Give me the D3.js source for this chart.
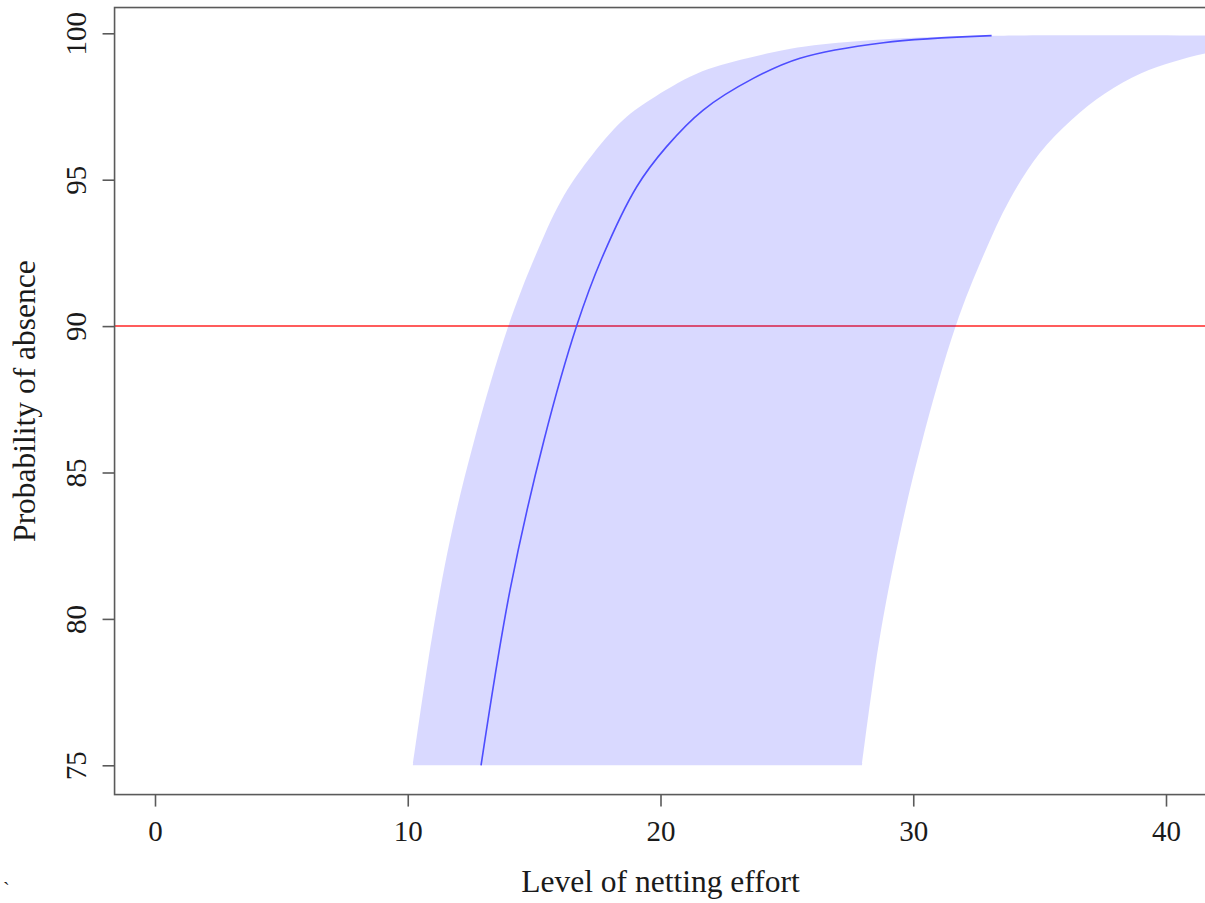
<!DOCTYPE html>
<html>
<head>
<meta charset="utf-8">
<script src="https://cdn.jsdelivr.net/npm/d3@7"></script>
<style>
  html, body { margin: 0; padding: 0; background: #fff; }
  svg { display: block; }
  text { font-family: "Liberation Serif", "Times New Roman", serif; fill: #1a1a1a; }
</style>
</head>
<body>
<svg id="chart" width="1205" height="903"></svg>
<script>
// ---- data ----
const meanX = [12.9, 14.05, 15.39, 16.68, 17.67, 19.06, 20.24, 21.69, 23.67, 25.52, 28.82, 33.1];
const meanY = [75, 81, 86.1, 90, 92.3, 94.76, 96.13, 97.38, 98.46, 99.15, 99.68, 99.92];

const lowerX = [10.2, 10.94, 11.67, 12.6, 13.98, 15.05, 16.08, 17.14, 18.52, 19.8, 21.65, 23.68, 25.65, 29.55, 33.43, 43.3];
const lowerY = [75, 79.28, 82.69, 86.0, 90, 92.4, 94.31, 95.67, 97.04, 97.84, 98.7, 99.2, 99.54, 99.83, 99.92, 99.92];

const upperX = [27.97, 28.66, 29.42, 30.33, 31.68, 32.77, 33.81, 35.0, 36.26, 37.6, 39.0, 40.3, 41.65, 43.3];
const upperY = [75, 79.28, 82.69, 86.0, 90, 92.4, 94.31, 95.9, 97.04, 97.95, 98.63, 99.03, 99.33, 99.56];

const threshold = [90];
const xTicks = [0, 10, 20, 30, 40];
const yTicks = [75, 80, 85, 90, 95, 100];
const xLim = [-1.6, 41.6];
const yLim = [74, 100.88];
const xTitle = "Level of netting effort";
const yTitle = "Probability of absence";

// ---- scales ----
const svg = d3.select("#chart");
const x = d3.scaleLinear().domain([0, 40]).range([155, 1166]);
const y = d3.scaleLinear().domain([75, 100]).range([765.3, 33.3]);

const pLeft = x(xLim[0]), pRight = x(xLim[1]);
const pTop = y(yLim[1]), pBottom = y(yLim[0]);

svg.append("defs").append("clipPath").attr("id", "plotclip")
  .append("rect").attr("x", pLeft).attr("y", pTop)
  .attr("width", pRight - pLeft).attr("height", pBottom - pTop);

const plot = svg.append("g").attr("clip-path", "url(#plotclip)");

// threshold line (drawn first, band over it)
plot.selectAll("line.thr").data(threshold).enter().append("line")
  .attr("class", "thr")
  .attr("x1", pLeft).attr("x2", pRight)
  .attr("y1", d => y(d)).attr("y2", d => y(d))
  .attr("stroke", "#ff5c5c").attr("stroke-width", 2);

// band
const lowerPts = lowerX.map((v, i) => [v, lowerY[i]]);
const upperPts = upperX.map((v, i) => [v, upperY[i]]).reverse();
const edge = d3.line().x(d => x(d[0])).y(d => y(d[1])).curve(d3.curveCatmullRom.alpha(0.5));
const bandPath = edge(lowerPts) + edge(upperPts).replace(/^M/, "L") + "Z";
plot.append("path").attr("d", bandPath)
  .attr("fill", "rgb(0,0,255)").attr("fill-opacity", 0.15).attr("stroke", "none");

// mean line
const meanPts = meanX.map((v, i) => [v, meanY[i]]);
plot.append("path").attr("d", edge(meanPts))
  .attr("fill", "none").attr("stroke", "#4d4dff").attr("stroke-width", 1.6);

// frame
svg.append("rect").attr("x", pLeft).attr("y", pTop)
  .attr("width", pRight - pLeft).attr("height", pBottom - pTop)
  .attr("fill", "none").attr("stroke", "#5a5a5a").attr("stroke-width", 1.6);

// x axis
const gx = svg.append("g").attr("transform", `translate(0,${pBottom})`)
  .call(d3.axisBottom(x).tickValues(xTicks).tickSize(12).tickFormat(d3.format("d")));
gx.select(".domain").remove();
gx.selectAll(".tick line").attr("stroke", "#5a5a5a").attr("stroke-width", 1.6);
gx.selectAll(".tick text").attr("y", 46).attr("dy", null)
  .attr("font-size", 29).attr("fill", "#1a1a1a")
  .style("font-family", "'Liberation Serif', serif");

// y axis
const gy = svg.append("g").attr("transform", `translate(${pLeft},0)`)
  .call(d3.axisLeft(y).tickValues(yTicks).tickSize(12).tickFormat(d3.format("d")));
gy.select(".domain").remove();
gy.selectAll(".tick line").attr("stroke", "#5a5a5a").attr("stroke-width", 1.6);
gy.selectAll(".tick text")
  .attr("x", 0).attr("y", -28.5).attr("dy", null)
  .attr("transform", "rotate(-90)")
  .attr("text-anchor", "middle")
  .attr("font-size", 29).attr("fill", "#1a1a1a")
  .style("font-family", "'Liberation Serif', serif");

// titles
svg.append("text").attr("x", (pLeft + pRight) / 2).attr("y", 892)
  .attr("text-anchor", "middle").attr("font-size", 31.5).text(xTitle);
svg.append("text").attr("transform", `translate(35,${(pTop + pBottom) / 2}) rotate(-90)`)
  .attr("text-anchor", "middle").attr("font-size", 31.5).text(yTitle);

// stray mark in the reference
svg.append("text").attr("x", 3).attr("y", 897).attr("font-size", 20).text("`");
</script>
</body>
</html>
